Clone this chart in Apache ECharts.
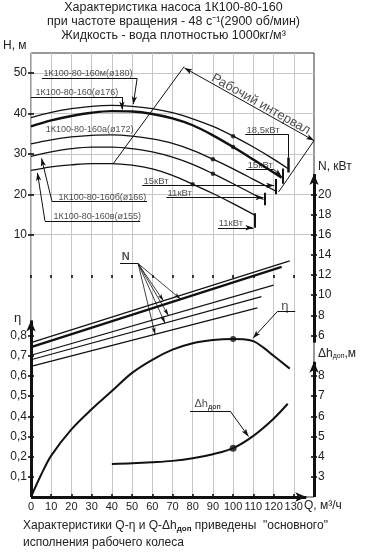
<!DOCTYPE html>
<html><head><meta charset="utf-8">
<script src="https://cdn.jsdelivr.net/npm/echarts@6/dist/echarts.min.js"></script>
<style>html,body{margin:0;padding:0;background:#fff}#c{width:367px;height:556px}</style>
</head><body><div id="c"></div>
<script>
// ---------------- data ----------------
const qTicks = [0,10,20,30,40,50,60,70,80,90,100,110,120,130];
const hTicks = [10,20,30,40,50];
const etaTicks = [0.1,0.2,0.3,0.4,0.5,0.6,0.7,0.8];
const nTicks = [6,8,10,12,14,16,18,20];
const dhTicks = [3,4,5,6,7,8];

// Q-H curves  [Q, H]
const h180 = [[0,39.0],[10,40.3],[20,41.2],[30,41.8],[40,42.0],[50,41.8],[60,41.2],[70,40.2],[80,38.7],[90,36.8],[100,34.4],[110,31.7],[120,28.7],[127,26.4]];
const h176 = [[0,36.8],[10,38.3],[20,39.4],[30,40.2],[40,40.6],[50,40.5],[60,39.9],[70,38.8],[80,37.1],[90,34.6],[100,31.7],[110,28.6],[120,25.4],[124,24.1]];
const h172 = [[0,32.5],[10,33.5],[20,34.2],[30,34.6],[40,34.7],[50,34.4],[60,33.7],[70,32.6],[80,30.9],[90,28.7],[100,26.3],[110,23.7],[121,20.8]];
const h166 = [[0,29.4],[10,30.5],[20,31.3],[30,31.7],[40,31.7],[50,31.3],[60,30.5],[70,29.2],[80,27.4],[90,25.1],[100,22.6],[110,20.0],[115,18.7]];
const h155 = [[0,25.9],[10,26.8],[20,27.3],[30,27.6],[40,27.6],[50,27.2],[60,26.3],[70,24.7],[80,22.5],[90,20.2],[100,17.7],[110.5,14.9]];
const hDots = [[100,34.4],[100,31.7],[90,28.7],[90,25.1],[80,22.5]];

// Q-N lines [Q, N]
const n180 = [[0,5.3],[128,13.4]];
const n176 = [[0,4.85],[124,12.8]];
const n172 = [[0,4.05],[120,11.0]];
const n166 = [[0,3.6],[114,9.85]];
const n155 = [[0,2.95],[112,8.75]];

// Q-eta
const eta = [[0,0],[5,0.11],[10,0.205],[20,0.335],[30,0.435],[40,0.525],[50,0.615],[60,0.68],[70,0.73],[80,0.762],[90,0.778],[100,0.783],[105,0.782],[110,0.772],[115,0.74],[120,0.70],[128,0.636]];
const etaDot = [[100,0.783]];

// Q-dh
const dh = [[40,3.64],[50,3.67],[60,3.72],[70,3.79],[80,3.92],[90,4.12],[100,4.42],[110,5.03],[120,5.88],[127,6.62]];
const dhDot = [[100,4.42]];

const curveNames = ['1К100-80-160м(ø180)','1К100-80-160(ø176)','1К100-80-160а(ø172)','1К100-80-160б(ø166)','1К100-80-160в(ø155)'];
const powerNames = ['18,5кВт','15кВт','15кВт','11кВт','11кВт'];

// ---------------- helpers ----------------
const FONT = "'Liberation Sans', Arial, sans-serif";
const NARROW = "'Liberation Sans Narrow', 'Liberation Sans', sans-serif";
const INK = '#111';
const TXT = '#222';

function seg(a, b, w, endSym, startSym, size) {
  return [
    {coord: a, symbol: startSym || 'none', symbolSize: size || [4, 8], lineStyle: {width: w || 1, color: INK, type: 'solid'}},
    {coord: b, symbol: endSym || 'none', symbolSize: size || [4, 8]}
  ];
}
function poly(pts, w, arrow, size) {
  const out = [];
  for (let i = 0; i < pts.length - 1; i++) {
    out.push(seg(pts[i], pts[i + 1], w, (arrow && i === pts.length - 2) ? 'arrow' : 'none', 'none', size));
  }
  return out;
}
function ml(items) {
  return {silent: true, animation: false, symbol: ['none', 'none'], label: {show: false},
    lineStyle: {type: 'solid', color: INK, width: 1}, emphasis: {disabled: true}, data: items};
}
function yAx(pos, min, max, ticks, fmt, inside, extra) {
  return Object.assign({
    type: 'value', position: pos, min: min, max: max,
    splitLine: {show: false}, axisLine: {show: false},
    axisTick: {show: true, inside: inside, length: 3, lineStyle: {color: '#000', width: 1.5}, customValues: ticks},
    axisLabel: {show: !inside, customValues: ticks, formatter: fmt, margin: 4, color: TXT, fontSize: 12, fontFamily: FONT}
  }, extra || {});
}
function curve(data, yIdx, w, extra) {
  return Object.assign({type: 'line', xAxisIndex: 0, yAxisIndex: yIdx, data: data, showSymbol: false, smooth: 0.35,
    silent: true, animation: false, clip: false, lineStyle: {color: INK, width: w}}, extra || {});
}
function texts(yIdx, items) {
  return {type: 'scatter', xAxisIndex: 0, yAxisIndex: yIdx, symbolSize: 1, silent: true, animation: false,
    itemStyle: {color: 'transparent'}, clip: false,
    label: {show: true, position: 'right', distance: 0, fontFamily: FONT, color: TXT, fontSize: 9},
    data: items};
}

// ---------------- annotation geometry ----------------
const AX = [7, 11];
const hAnno = [].concat(
  // H axis
  [seg([0, 5.5], [0, 55.6], 3, 'arrow', 'none', AX)],
  // model label leaders
  poly([[5.4, 48.7], [52.5, 48.7], [50.6, 42.3]], 1, true),
  poly([[0, 44.1], [45, 44.1], [45, 41.0]], 1, true),
  poly([[57.4, 18.2], [10.4, 18.2], [5.2, 28.9]], 1, true),
  poly([[54, 13.4], [6.9, 13.4], [3.2, 25.3]], 1, true),
  // power leaders
  poly([[106, 34.9], [127.2, 34.9], [127.2, 29.1]], 1, false),
  [seg([127.2, 25.4], [127.2, 29.1], 2.5)],
  poly([[106.4, 26.2], [120, 26.2], [124.0, 24.4]], 1, true),
  [seg([124.5, 22.6], [124.5, 26.4], 2)],
  poly([[55, 22.2], [120.3, 22.2]], 1, true),
  [seg([121, 20.0], [121, 23.8], 2)],
  poly([[67, 19.2], [115, 19.2]], 1, true),
  [seg([115.5, 17.3], [115.5, 20.4], 2)],
  poly([[92.5, 11.7], [110, 11.7]], 1, true),
  [seg([110.7, 11.7], [110.7, 15.3], 2)],
  // working interval
  [seg([40.7, 27.6], [75.7, 51.6], 1)],
  [seg([75.9, 51.3], [140, 33.3], 1, 'arrow', 'arrow', [4, 8])],
  [seg([140, 33.3], [122.5, 20.6], 1)]
);
const nAnno = [].concat(
  [seg([140, 5.3], [140, 22.0], 3, 'arrow', 'none', AX)],
  poly([[44, 13.13], [53, 13.13]], 1, false),
  [seg([53, 13.13], [74, 9.62], 0.8, 'arrow', 'none', [3, 7])],
  [seg([53, 13.13], [65.5, 9.45], 0.8, 'arrow', 'none', [3, 7])],
  [seg([53, 13.13], [68, 7.99], 0.8, 'arrow', 'none', [3, 7])],
  [seg([53, 13.13], [66.3, 7.23], 0.8, 'arrow', 'none', [3, 7])],
  [seg([53, 13.13], [61.4, 6.13], 0.8, 'arrow', 'none', [3, 7])]
);
const etaAnno = [].concat(
  [seg([0, 0], [0, 0.875], 3, 'arrow', 'none', AX)],
  [seg([0, 0], [136.2, 0], 3, 'arrow', 'none', AX)],
  poly([[130.7, 0.918], [121.8, 0.918], [109.8, 0.787]], 1, true)
);
const dhAnno = [].concat(
  [seg([140, 2], [140, 8.7], 3, 'arrow', 'none', AX)],
  poly([[78.7, 6.26], [98.5, 6.26], [107.6, 5.0]], 1, true)
);

// ---------------- chart ----------------
const chart = echarts.init(document.getElementById('c'), null, {renderer: 'canvas'});
const etaFmt = v => v.toFixed(1).replace('.', ',');

const option = {
  animation: false,
  grid: {left: 31, right: 53, top: 53, bottom: 59, show: true, borderColor: '#333', borderWidth: 1, backgroundColor: 'transparent'},
  xAxis: [
    {type: 'value', min: 0, max: 140, interval: 10,
      splitLine: {show: true, lineStyle: {color: '#c6c6c6', width: 1}},
      axisLine: {show: false},
      axisTick: {show: true, length: 3, lineStyle: {color: '#000', width: 1.5}, customValues: qTicks},
      axisLabel: {customValues: qTicks, margin: 4, color: TXT, fontSize: 11, fontFamily: NARROW}},
    {type: 'value', min: 0, max: 140, position: 'bottom', splitLine: {show: false}, axisLine: {show: false},
      axisTick: {show: true, inside: true, length: 3, lineStyle: {color: '#000', width: 1.5}, customValues: qTicks},
      axisLabel: {show: false}}
  ],
  yAxis: [
    yAx('left', -55, 55, hTicks, null, false, {interval: 5, splitLine: {show: true, lineStyle: {color: '#c6c6c6', width: 1}}}),
    yAx('left', 0, 2.2, etaTicks, etaFmt, false),
    yAx('right', -10, 34, nTicks, null, false),
    yAx('right', 2, 24, dhTicks, null, false),
    yAx('left', -55, 55, hTicks, null, true),
    yAx('left', 0, 2.2, etaTicks, etaFmt, true),
    yAx('right', -10, 34, nTicks, null, true),
    yAx('right', 2, 24, dhTicks, null, true)
  ],
  graphic: [
    {type: 'text', x: 173.5, y: 8, style: {text: 'Характеристика насоса 1К100-80-160', font: '12.5px ' + FONT, fill: TXT, align: 'center', verticalAlign: 'middle'}},
    {type: 'text', x: 173.5, y: 22, style: {text: 'при частоте вращения - 48 с⁻¹(2900 об/мин)', font: '12.5px ' + FONT, fill: TXT, align: 'center', verticalAlign: 'middle'}},
    {type: 'text', x: 173.5, y: 36, style: {text: 'Жидкость - вода плотностью 1000кг/м³', font: '12.5px ' + FONT, fill: TXT, align: 'center', verticalAlign: 'middle'}},
    {type: 'text', x: 3, y: 46, style: {text: 'H, м', font: '12px ' + FONT, fill: TXT, align: 'left', verticalAlign: 'middle'}},
    {type: 'text', x: 14, y: 318, style: {text: 'η', font: '13px ' + FONT, fill: TXT, align: 'left', verticalAlign: 'middle'}},
    {type: 'text', x: 318, y: 167, style: {text: 'N, кВт', font: '12px ' + FONT, fill: TXT, align: 'left', verticalAlign: 'middle'}},
    {type: 'text', x: 318, y: 354, style: {text: '{a|Δh}{b|доп}{a|,м}', align: 'left', verticalAlign: 'middle',
      rich: {a: {fontSize: 12, fontFamily: FONT, fill: TXT}, b: {fontSize: 7, fontFamily: FONT, fill: TXT, padding: [5, 0, 0, 0]}}}},
    {type: 'text', x: 304, y: 506, style: {text: 'Q, м³/ч', font: '12px ' + FONT, fill: TXT, align: 'left', verticalAlign: 'middle'}},
    {type: 'text', x: 23, y: 526, style: {text: '{a|Характеристики Q-η и Q-Δh}{b|доп}{a| приведены  "основного"}', align: 'left', verticalAlign: 'middle',
      rich: {a: {fontSize: 12, fontFamily: FONT, fill: TXT}, b: {fontSize: 8, fontFamily: FONT, fontWeight: 'bold', fill: TXT, padding: [5, 0, 0, 0]}}}},
    {type: 'text', x: 23, y: 543, style: {text: 'исполнения рабочего колеса', font: '12px ' + FONT, fill: TXT, align: 'left', verticalAlign: 'middle'}}
  ],
  series: [
    curve(h180, 0, 1.3, {markLine: ml(hAnno)}),
    curve(h176, 0, 2.4),
    curve(h172, 0, 1.3),
    curve(h166, 0, 1.3),
    curve(h155, 0, 1.3),
    {type: 'scatter', xAxisIndex: 0, yAxisIndex: 0, data: hDots, symbolSize: 4.5, silent: true, itemStyle: {color: INK}},
    curve(n180, 2, 1.2, {smooth: false, markLine: ml(nAnno)}),
    curve(n176, 2, 2.3, {smooth: false}),
    curve(n172, 2, 1.2, {smooth: false}),
    curve(n166, 2, 1.2, {smooth: false}),
    curve(n155, 2, 1.2, {smooth: false}),
    curve(eta, 1, 2, {markLine: ml(etaAnno)}),
    {type: 'scatter', xAxisIndex: 0, yAxisIndex: 1, data: etaDot, symbolSize: 6, silent: true, itemStyle: {color: INK}},
    curve(dh, 3, 2, {markLine: ml(dhAnno)}),
    {type: 'scatter', xAxisIndex: 0, yAxisIndex: 3, data: dhDot, symbolSize: 7, silent: true, itemStyle: {color: INK}},
    texts(0, [
      {value: [5.9, 49.8], label: {formatter: curveNames[0]}},
      {value: [2.0, 45.2], label: {formatter: curveNames[1]}},
      {value: [7.0, 36.1], label: {formatter: curveNames[2]}},
      {value: [13.3, 19.3], label: {formatter: curveNames[3]}},
      {value: [10.9, 14.5], label: {formatter: curveNames[4]}},
      {value: [106.4, 35.9], label: {formatter: powerNames[0], fontSize: 9.5}},
      {value: [107.0, 27.2], label: {formatter: powerNames[1], fontSize: 9.5}},
      {value: [55.4, 23.1], label: {formatter: powerNames[2], fontSize: 9.5}},
      {value: [67.3, 20.2], label: {formatter: powerNames[3], fontSize: 9.5}},
      {value: [92.6, 12.7], label: {formatter: powerNames[4], fontSize: 9.5}},
      {value: [113.7, 42.3], label: {formatter: 'Рабочий интервал', position: 'inside', rotate: -29.3, fontSize: 13}}
    ]),
    texts(2, [
      {value: [44.6, 13.75], label: {formatter: 'N', fontSize: 11, fontWeight: 'bold'}}
    ]),
    texts(1, [
      {value: [123.6, 0.945], label: {formatter: 'η', fontSize: 13}}
    ]),
    texts(3, [
      {value: [80.6, 6.6], label: {formatter: '{a|Δh}{b|доп}', rich: {a: {fontSize: 11, fontFamily: FONT, color: TXT}, b: {fontSize: 7, fontFamily: FONT, fontWeight: 'bold', color: TXT, padding: [5, 0, 0, 0]}}}}
    ])
  ]
};
chart.setOption(option);
</script>
</body></html>
